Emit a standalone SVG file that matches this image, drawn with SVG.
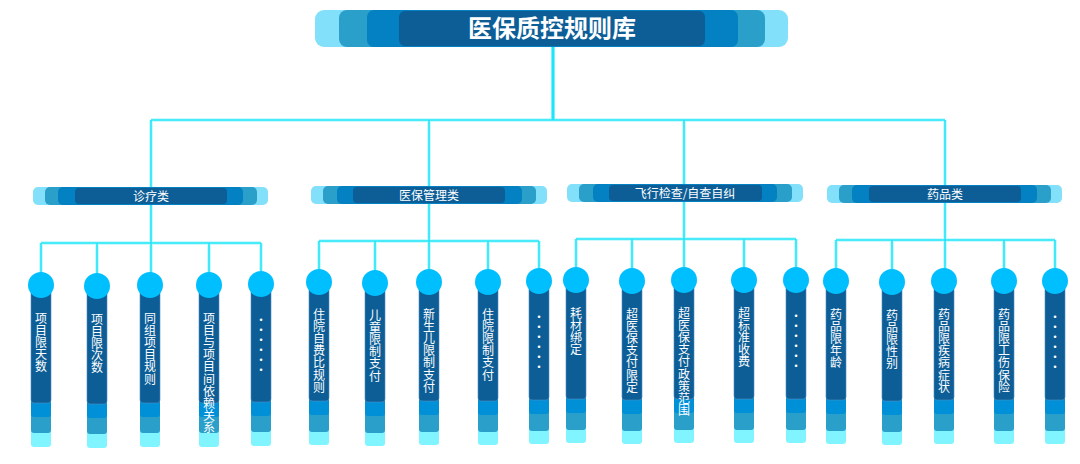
<svg xmlns="http://www.w3.org/2000/svg" width="1080" height="464" viewBox="0 0 1080 464">
<style>
.l1{fill:#82e0fa}.l2{fill:#2a9fca}.l3{fill:#0381c2}.l4{fill:#0d5e96}
.glow{stroke:#b6f7ff;stroke-width:4;fill:none;opacity:0.7}
.ln{stroke:#1ee6f8;stroke-width:1.6;fill:none}
.t{font-family:"Noto Sans CJK SC","Noto Sans",sans-serif;fill:#ffffff}
.title{font-size:24px;font-weight:bold}
.cat{font-size:12px}
.col{font-size:12px;writing-mode:vertical-rl;letter-spacing:0.2px}
.dot{font-size:8.5px;writing-mode:vertical-rl;text-orientation:upright;font-family:"DejaVu Sans",sans-serif}
.c{fill:#00bfff}
.b1{fill:#80f4ff}.b2{fill:#2a9fca}.b3{fill:#0090d8}.b4{fill:#0d5e96;stroke:#4f8fbf;stroke-width:0.6}
</style>
<g id="connectors">
<path class="glow" d="M553 46V120M151 120H945M151 120V285M429 120V282M684 120V280M945 120V281M41 243H261M41 243V285M97 243V285M209 243V285M261 243V285M319 241H539M319 241V282M375 241V282M488 241V282M539 241V282M576 239H796M576 239V280M632 239V280M744 239V280M796 239V280M836 240H1055M836 240V281M892 240V281M1004 240V281M1055 240V281"/>
<path class="ln" d="M553 46V120" style="stroke-width:3"/>
<path class="ln" d="M151 120H945M151 120V285M429 120V282M684 120V280M945 120V281M41 243H261M41 243V285M97 243V285M209 243V285M261 243V285M319 241H539M319 241V282M375 241V282M488 241V282M539 241V282M576 239H796M576 239V280M632 239V280M744 239V280M796 239V280M836 240H1055M836 240V281M892 240V281M1004 240V281M1055 240V281"/>
</g>
<g id="root">
<rect class="l1" x="315" y="10" width="473" height="37" rx="9"/>
<rect class="l2" x="339" y="10" width="426" height="37" rx="8"/>
<rect class="l3" x="367" y="10" width="371" height="37" rx="7"/>
<rect class="l4" x="399" y="11" width="306" height="35" rx="6"/>
<text class="t title" x="552" y="37" text-anchor="middle">医保质控规则库</text>
</g>
<g id="cat1">
<rect class="l1" x="33" y="187" width="235" height="18" rx="5"/>
<rect class="l2" x="45" y="187" width="212" height="18" rx="5"/>
<rect class="l3" x="58" y="187" width="185" height="18" rx="5"/>
<rect class="l4" x="75" y="188" width="152" height="16" rx="4"/>
<text class="t cat" x="151" y="200.5" text-anchor="middle">诊疗类</text>
</g>
<g id="cat2">
<rect class="l1" x="311" y="186" width="236" height="18" rx="5"/>
<rect class="l2" x="323" y="186" width="213" height="18" rx="5"/>
<rect class="l3" x="337" y="186" width="185" height="18" rx="5"/>
<rect class="l4" x="353" y="187" width="152" height="16" rx="4"/>
<text class="t cat" x="429" y="199.5" text-anchor="middle">医保管理类</text>
</g>
<g id="cat3">
<rect class="l1" x="567" y="184" width="236" height="18" rx="5"/>
<rect class="l2" x="579" y="184" width="213" height="18" rx="5"/>
<rect class="l3" x="593" y="184" width="184" height="18" rx="5"/>
<rect class="l4" x="609" y="185" width="153" height="16" rx="4"/>
<text class="t cat" x="685" y="197.5" text-anchor="middle">飞行检查/自查自纠</text>
</g>
<g id="cat4">
<rect class="l1" x="827" y="185" width="235" height="18" rx="5"/>
<rect class="l2" x="839" y="185" width="212" height="18" rx="5"/>
<rect class="l3" x="852" y="185" width="185" height="18" rx="5"/>
<rect class="l4" x="869" y="186" width="152" height="16" rx="4"/>
<text class="t cat" x="945" y="198.5" text-anchor="middle">药品类</text>
</g>
<defs>
<g id="colA">
<rect class="b1" x="-10" y="0" width="20" height="162" rx="3"/>
<rect class="b2" x="-10" y="0" width="20" height="148" rx="3"/>
<rect class="b3" x="-10" y="0" width="20" height="132" rx="3"/>
<rect class="b4" x="-10" y="0" width="20" height="118" rx="3"/>
<circle class="c" cx="0" cy="0" r="13"/>
</g>
<g id="colB">
<rect class="b1" x="-10" y="0" width="20" height="163" rx="3"/>
<rect class="b2" x="-10" y="0" width="20" height="150" rx="3"/>
<rect class="b3" x="-10" y="0" width="20" height="133" rx="3"/>
<rect class="b4" x="-10" y="0" width="20" height="119" rx="3"/>
<circle class="c" cx="0" cy="0" r="13"/>
</g>
</defs>
<g id="g1n1"><use href="#colA" x="41" y="285"/><text class="t col" x="41" y="312">项目限天数</text></g>
<g id="g1n2"><use href="#colA" x="97" y="286"/><text class="t col" x="97" y="313">项目限次数</text></g>
<g id="g1n3"><use href="#colA" x="150" y="285"/><text class="t col" x="150" y="312">同组项目规则</text></g>
<g id="g1n4"><use href="#colA" x="209" y="285"/><text class="t col" x="209" y="312">项目与项目间依赖关系</text></g>
<g id="g1n5"><use href="#colA" x="261" y="284"/><text class="t dot" x="261" y="315">••••••</text></g>

<g id="g2n1"><use href="#colB" x="319" y="282"/><text class="t col" x="319" y="308">住院自费比规则</text></g>
<g id="g2n2"><use href="#colB" x="375" y="283"/><text class="t col" x="375" y="309">儿童限制支付</text></g>
<g id="g2n3"><use href="#colB" x="429" y="282"/><text class="t col" x="429" y="308">新生儿限制支付</text></g>
<g id="g2n4"><use href="#colB" x="488" y="282"/><text class="t col" x="488" y="308">住院限制支付</text></g>
<g id="g2n5"><use href="#colB" x="539" y="281"/><text class="t dot" x="539" y="312">••••••</text></g>

<g id="g3n1"><use href="#colB" x="576" y="280"/><text class="t col" x="576" y="307">耗材绑定</text></g>
<g id="g3n2"><use href="#colB" x="632" y="281"/><text class="t col" x="632" y="308">超医保支付限定</text></g>
<g id="g3n3"><use href="#colB" x="684" y="280"/><text class="t col" x="684" y="307">超医保支付政策范围</text></g>
<g id="g3n4"><use href="#colB" x="744" y="280"/><text class="t col" x="744" y="307">超标准收费</text></g>
<g id="g3n5"><use href="#colB" x="796" y="280"/><text class="t dot" x="796" y="311">••••••</text></g>

<g id="g4n1"><use href="#colB" x="836" y="281"/><text class="t col" x="836" y="308">药品限年龄</text></g>
<g id="g4n2"><use href="#colB" x="892" y="282"/><text class="t col" x="892" y="309">药品限性别</text></g>
<g id="g4n3"><use href="#colB" x="944" y="281"/><text class="t col" x="944" y="308">药品限疾病症状</text></g>
<g id="g4n4"><use href="#colB" x="1004" y="281"/><text class="t col" x="1004" y="308">药品限工伤保险</text></g>
<g id="g4n5"><use href="#colB" x="1055" y="281"/><text class="t dot" x="1055" y="312">••••••</text></g>
</svg>
